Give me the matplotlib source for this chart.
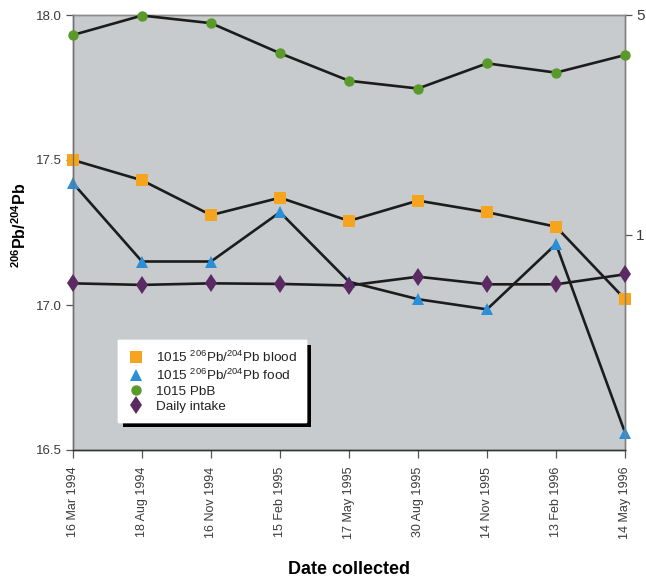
import matplotlib
matplotlib.use("Agg")
import matplotlib.pyplot as plt
from matplotlib.lines import Line2D
from matplotlib import patheffects as pe

plt.rcParams['font.family'] = ['Liberation Sans', 'DejaVu Sans']
plt.rcParams['mathtext.fontset'] = 'custom'
plt.rcParams['mathtext.rm'] = 'Liberation Sans'
plt.rcParams['mathtext.it'] = 'Liberation Sans:italic'
plt.rcParams['mathtext.bf'] = 'Liberation Sans:bold'

# ---- data ----
dates = ["16 Mar 1994", "18 Aug 1994", "16 Nov 1994", "15 Feb 1995", "17 May 1995",
         "30 Aug 1995", "14 Nov 1995", "13 Feb 1996", "14 May 1996"]
ratio_blood = [17.50, 17.43, 17.31, 17.37, 17.29, 17.36, 17.32, 17.27, 17.02]
ratio_food = [17.42, 17.15, 17.15, 17.32, 17.08, 17.02, 16.985, 17.21, 16.56]
pbb = [4.32, 4.98, 4.71, 3.78, 3.09, 2.92, 3.51, 3.28, 3.73]
daily_intake = [0.702, 0.694, 0.702, 0.699, 0.691, 0.737, 0.697, 0.697, 0.750]

left_ticks = [16.5, 17.0, 17.5, 18.0]
right_ticks = [1, 5]

labels = [r"1015 $\mathregular{^{206}}$Pb/$\mathregular{^{204}}$Pb blood",
          r"1015 $\mathregular{^{206}}$Pb/$\mathregular{^{204}}$Pb food",
          "1015 PbB",
          "Daily intake"]

c_orange = '#f6a41e'
c_blue = '#2b8fd8'
c_green = '#5a9a2b'
c_purple = '#5b2a63'
c_line = '#1c1c1c'
tick_col = '#3a3a3a'

fig = plt.figure(figsize=(6.46, 5.83), dpi=100)
ax = fig.add_axes([73/646, 1-450/583, 552/646, 435/583])
ax.set_facecolor('#c7cbcd')
x = list(range(len(dates)))

lw = 1.9
ax.plot(x, ratio_blood, color=c_line, lw=lw, marker='s', ms=8, mfc=c_orange, mec=c_orange, mew=0, zorder=3, clip_on=False)
ax.plot(x, ratio_food, color=c_line, lw=lw, marker='^', ms=8, mfc=c_blue, mec=c_blue, mew=0, zorder=3, clip_on=False)
ax.set_ylim(16.5, 18.0)
ax.set_xlim(0, len(dates)-1)
ax.set_yticks(left_ticks)
ax.set_yticklabels([f"{v:.1f}" for v in left_ticks])
ax.set_xticks(x)
ax.set_xticklabels(dates, rotation=90, fontsize=9)

ax2 = ax.twinx()
ax2.set_yscale('log')
ax2.plot(x, pbb, color=c_line, lw=lw, marker='o', ms=7.5, mfc=c_green, mec=c_green, mew=0, zorder=3, clip_on=False)
ax2.plot(x, daily_intake, color=c_line, lw=lw, marker='d', ms=9.5, mfc=c_purple, mec=c_purple, mew=0, zorder=3, clip_on=False)
ax2.set_ylim(0.2074, 5)
ax2.set_yticks(right_ticks)
ax2.set_yticklabels([str(v) for v in right_ticks])
ax2.yaxis.set_minor_locator(matplotlib.ticker.NullLocator())

for a in (ax, ax2):
    a.tick_params(axis='both', direction='out', length=5, width=0.9, color='#555555',
                  labelcolor=tick_col, labelsize=9.5, pad=3)
ax.tick_params(axis='x', labelsize=9, pad=6, length=6)
ax2.tick_params(axis='y', labelsize=11)

for a in (ax, ax2):
    a.spines['left'].set_color('#707070')
    a.spines['right'].set_color('#808080')
    a.spines['top'].set_color('#8a8a8a')
    a.spines['bottom'].set_color('#333333')
    for s in a.spines.values():
        s.set_linewidth(1.0)

ax.set_ylabel(r"$\mathbf{^{206}}$Pb/$\mathbf{^{204}}$Pb", fontsize=11.5, fontweight='bold', color='black')
ax.yaxis.set_label_coords((29-73)/552, (450-225)/435)

fig.text((73+625)/2/646, 1-569/583, "Date collected", ha='center', va='center',
         fontsize=13, fontweight='bold', color='black')

handles = [
    Line2D([], [], ls='none', marker='s', ms=8, mfc=c_orange, mec=c_orange, mew=0),
    Line2D([], [], ls='none', marker='^', ms=8, mfc=c_blue, mec=c_blue, mew=0),
    Line2D([], [], ls='none', marker='o', ms=7.5, mfc=c_green, mec=c_green, mew=0),
    Line2D([], [], ls='none', marker='d', ms=9.5, mfc=c_purple, mec=c_purple, mew=0),
]
leg = ax2.legend(handles, labels, loc='upper left', bbox_to_anchor=((118-73)/552, (450-340)/435),
                 borderaxespad=0, frameon=True, fancybox=False, framealpha=1,
                 facecolor='white', edgecolor='white', fontsize=9.7,
                 handlelength=1.3, handletextpad=0.8, labelspacing=0.2, borderpad=0.7)
for t in leg.get_texts():
    t.set_color('#222222')
leg.get_frame().set_path_effects([pe.withSimplePatchShadow(offset=(3.5, -3.5), shadow_rgbFace='black', alpha=1.0), pe.Normal()])
leg.set_zorder(10)

fig.savefig('out.png', dpi=100, facecolor='white')
